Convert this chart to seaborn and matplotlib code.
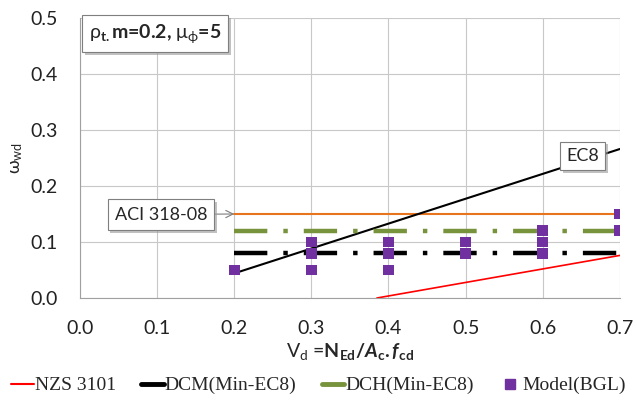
import matplotlib
matplotlib.use("Agg")
import matplotlib.pyplot as plt
import matplotlib.patheffects as pe
from matplotlib.lines import Line2D
import seaborn as sns

# data
vd_code = [0.2, 0.7]
w_aci = [0.15, 0.15]
w_dch = [0.12, 0.12]
w_dcm = [0.08, 0.08]
vd_ec8 = [0.2, 0.7]
w_ec8 = [0.044, 0.266]
vd_nzs = [0.385, 0.7]
w_nzs = [0.0, 0.076]
vd_model = [0.2, 0.3, 0.3, 0.3, 0.4, 0.4, 0.4, 0.5, 0.5, 0.6, 0.6, 0.6, 0.7, 0.7]
w_model = [0.05, 0.05, 0.08, 0.10, 0.05, 0.08, 0.10, 0.08, 0.10, 0.08, 0.10, 0.12, 0.12, 0.15]

RED = "#FF0000"
ORANGE = "#E8741E"
GREEN = "#77933C"
PURPLE = "#7030A0"

sns.set_style("whitegrid", {"grid.color": "#C8C8C8", "axes.edgecolor": "#A0A0A0"})
plt.rcParams["font.family"] = ["Lato", "DejaVu Sans"]
plt.rcParams["mathtext.fontset"] = "custom"
plt.rcParams["mathtext.rm"] = "Lato"
plt.rcParams["mathtext.it"] = "Lato:italic"
plt.rcParams["mathtext.bf"] = "Lato:bold"
plt.rcParams["mathtext.bfit"] = "Lato:bold:italic"

fig = plt.figure(figsize=(6.37, 4.08), dpi=100)
ax = fig.add_axes([0.1256, 0.2696, 0.8474, 0.6864])

sns.lineplot(x=vd_nzs, y=w_nzs, color=RED, lw=1.2, ax=ax)
sns.lineplot(x=vd_code, y=w_aci, color=ORANGE, lw=1.5, ax=ax)
sns.lineplot(x=vd_ec8, y=w_ec8, color="black", lw=1.5, ax=ax)
ax.plot(vd_code, w_dch, color=GREEN, lw=3.2, dashes=(7.5, 3.6, 1, 3.6))
ax.plot(vd_code, w_dcm, color="black", lw=3.2, dashes=(7.5, 3.6, 1, 3.6))
sns.scatterplot(x=vd_model, y=w_model, color=PURPLE, marker="s", s=60,
                edgecolor="none", ax=ax, zorder=5)

ax.set_xlim(0, 0.7)
ax.set_ylim(0, 0.5)
ax.set_xticks([0.0, 0.1, 0.2, 0.3, 0.4, 0.5, 0.6, 0.7])
ax.set_yticks([0.0, 0.1, 0.2, 0.3, 0.4, 0.5])
ax.xaxis.set_major_formatter(matplotlib.ticker.FormatStrFormatter("%.1f"))
ax.yaxis.set_major_formatter(matplotlib.ticker.FormatStrFormatter("%.1f"))
ax.tick_params(axis="both", labelsize=14, colors="#222222", length=0)
ax.tick_params(axis="x", pad=16)
ax.tick_params(axis="y", pad=16)
for s in ["top", "right"]:
    ax.spines[s].set_visible(False)
ax.set_xlabel(r"$\mathrm{V_d}$ =$\mathbf{N_{Ed}/}\mathbfit{A}_\mathbf{c}\mathbf{.}\mathbfit{f}_\mathbf{cd}$",
              fontsize=14, labelpad=3)
ax.set_ylabel(r"$\mathrm{\omega}_{\mathrm{wd}}$", fontsize=13, labelpad=4)

shadow = [pe.withSimplePatchShadow(offset=(2, -2), shadow_rgbFace="#999999", alpha=0.6)]
box = dict(boxstyle="square,pad=0.35", fc="white", ec="#7F7F7F", lw=0.8)

t1 = ax.text(0.012, 0.472, r"$\mathrm{\rho}_{\mathbf{t.}}$m=0.2, $\mathrm{\mu}_{\mathrm{\phi}}$=5",
             fontsize=14, fontweight="bold", va="center", ha="left", bbox=box)
t2 = ax.annotate("ACI 318-08", xy=(0.2, 0.15), xytext=(0.105, 0.149), fontsize=13,
                 ha="center", va="center",
                 bbox=dict(boxstyle="square,pad=0.4", fc="white", ec="#7F7F7F", lw=0.8),
                 arrowprops=dict(arrowstyle="->", color="#7F7F7F", lw=0.8,
                                 shrinkA=0, shrinkB=0))
t3 = ax.text(0.652, 0.2536, "EC8", fontsize=13, ha="center", va="center", bbox=box, zorder=6)
for t in (t1, t2, t3):
    t.get_bbox_patch().set_path_effects(shadow)

handles = [
    Line2D([], [], color=RED, lw=1.5),
    Line2D([], [], color="black", lw=3.5),
    Line2D([], [], color=GREEN, lw=3.5),
    Line2D([], [], color=PURPLE, marker="s", ls="none", markersize=7),
]
labels = ["NZS 3101", "DCM(Min-EC8)", "DCH(Min-EC8)", "Model(BGL)"]
fig.legend(handles, labels, loc="center", bbox_to_anchor=(0.5, 0.055), ncol=4,
           frameon=False, handlelength=1.15, handletextpad=0.05, columnspacing=1.3,
           prop={"family": "Liberation Serif", "size": 14})

fig.savefig("out.png", dpi=100)
